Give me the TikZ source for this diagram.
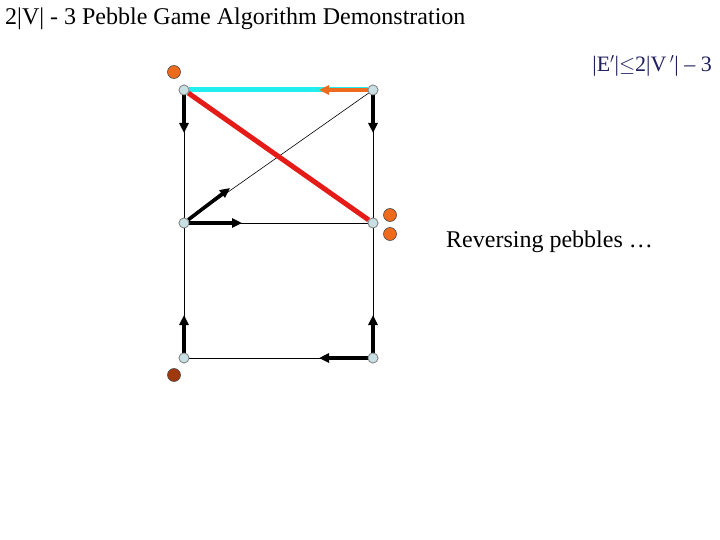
\documentclass[tikz,border=0pt]{standalone}
\usepackage{fontspec}
\setmainfont{Liberation Serif}
\usetikzlibrary{arrows.meta}
\definecolor{vfill}{HTML}{C8DFE3}
\definecolor{vdraw}{HTML}{808080}
\definecolor{peb}{HTML}{EE6A1C}
\definecolor{pebdark}{HTML}{A0380E}
\definecolor{cyanE}{HTML}{22EEEE}
\definecolor{redE}{HTML}{E41B17}
\definecolor{txtblue}{HTML}{1F1F5C}
\begin{document}
\begin{tikzpicture}[x=1pt,y=-1pt,
  vert/.style={circle,draw=vdraw,fill=vfill,inner sep=0pt,minimum size=10pt,line width=0.7pt},
  pebble/.style={circle,draw=black!70,fill=peb,inner sep=0pt,minimum size=13pt,line width=0.6pt},
  thinedge/.style={line width=0.8pt,black},
  pebarrow/.style={line width=3.6pt,black,-{Triangle[length=10pt,width=9pt]}},
  every node/.style={font=\fontsize{24}{28}\selectfont}]
\useasboundingbox (0,0) rectangle (720,540);
\node[vert] (A) at (184,90) {};
\node[vert] (B) at (373,90) {};
\node[vert] (C) at (184,223) {};
\node[vert] (D) at (373,223) {};
\node[vert] (E) at (184,358) {};
\node[vert] (F) at (373,358) {};
\coordinate (a1) at (184,133);
\coordinate (b1) at (373,133);
\coordinate (c1) at (242,223);
\coordinate (c2) at (230,188);
\coordinate (e1) at (184,315);
\coordinate (f1) at (373,315);
\coordinate (f2) at (319,358);
\coordinate (ab) at (319,90);
\draw[thinedge] (A) -- (C);
\draw[thinedge] (C) -- (E);
\draw[thinedge] (B) -- (D);
\draw[thinedge] (D) -- (F);
\draw[thinedge] (C) -- (D);
\draw[thinedge] (E) -- (F);
\draw[line width=0.6pt] (B) -- (C);
\draw[cyanE,line width=5pt] (A) -- (B);
\draw[redE,line width=5pt] (A) -- (D);
\draw[peb,line width=4pt,-{Triangle[length=10pt,width=9pt]}] (B) -- (ab);
\draw[pebarrow] (A) -- (a1);
\draw[pebarrow] (B) -- (b1);
\draw[pebarrow] (C) -- (c1);
\draw[pebarrow] (C) -- (c2);
\draw[pebarrow] (E) -- (e1);
\draw[pebarrow] (F) -- (f1);
\draw[pebarrow] (F) -- (f2);
\node[vert] at (A) {};
\node[vert] at (B) {};
\node[vert] at (C) {};
\node[vert] at (D) {};
\node[vert] at (E) {};
\node[vert] at (F) {};
\node[pebble] (p1) at (174,72) {};
\node[pebble] (p2) at (390,215) {};
\node[pebble] (p3) at (390,234) {};
\node[pebble,fill=pebdark] (p4) at (174,375) {};
\node[anchor=west,inner sep=0pt] (title) at (5,19) {2|V| - 3 Pebble Game Algorithm Demonstration};
\node[anchor=east,inner sep=0pt,text=txtblue,font=\fontsize{22}{26}\selectfont] (eq) at (712,66) {|E$'$|$\leq$2|V$\,'$| – 3};
\node[anchor=west,inner sep=0pt] (rev) at (446,242) {Reversing pebbles …};
\end{tikzpicture}
\end{document}
